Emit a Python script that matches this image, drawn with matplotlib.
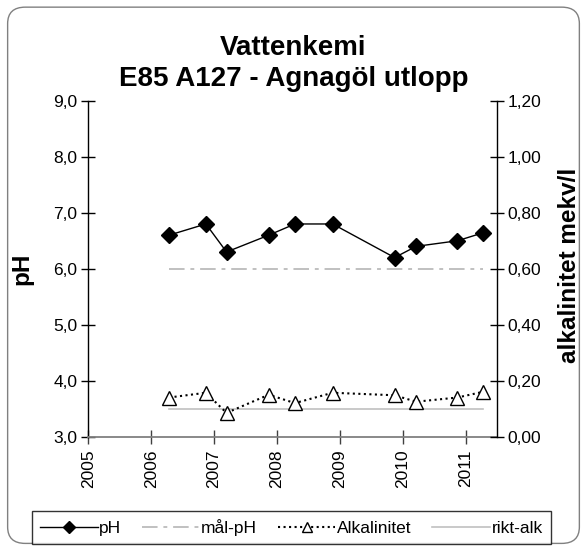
#!/usr/bin/env python3
"""Water chemistry chart: pH and alkalinity at E85 A127 - Agnagöl utlopp."""

from datetime import datetime

import matplotlib

matplotlib.use("Agg")
import matplotlib.dates as mdates
import matplotlib.pyplot as plt
from matplotlib.patches import FancyBboxPatch
from matplotlib.ticker import FuncFormatter

plt.rcParams["font.family"] = ["Liberation Sans", "DejaVu Sans"]

sample_dates = [
    "2006-04-15", "2006-11-15", "2007-03-15", "2007-11-15", "2008-04-15",
    "2008-11-20", "2009-11-15", "2010-03-20", "2010-11-15", "2011-04-10",
]
ph_values = [6.6, 6.8, 6.3, 6.6, 6.8, 6.8, 6.2, 6.4, 6.5, 6.64]
alkalinity = [0.14, 0.157, 0.085, 0.15, 0.12, 0.157, 0.148, 0.125, 0.14, 0.16]
target_ph = 6.0
guide_alk = 0.10

dates = [datetime.strptime(d, "%Y-%m-%d") for d in sample_dates]
target_span = [dates[0], dates[-1]]

fig = plt.figure(figsize=(5.87, 5.5), dpi=100)

# rounded chart-area frame, kept behind both axes
frame = FancyBboxPatch(
    (0.013, 0.012), 0.974, 0.975,
    boxstyle="round,pad=0,rounding_size=0.03",
    transform=fig.transFigure, facecolor="white", edgecolor="#808080",
    linewidth=1.0, zorder=-5,
)
fig.patches.append(frame)

ax = fig.add_axes([0.1504, 0.206, 0.6958, 0.6107])
ax2 = ax.twinx()
ax.patch.set_visible(False)
ax2.patch.set_visible(False)

ax.plot(dates, ph_values, color="black", linewidth=1.0, marker="D",
        markersize=8.5, label="pH", zorder=4)
ax.plot(target_span, [target_ph, target_ph], color="#c0c0c0",
        linestyle=(0, (8, 3, 2, 3)), linewidth=1.4, label="mål-pH", zorder=3)
ax2.plot(dates, alkalinity, color="black", linestyle=":", linewidth=1.5,
         marker="^", markersize=10.5, markerfacecolor="white",
         markeredgecolor="black", markeredgewidth=1.0, label="Alkalinitet",
         zorder=4)
ax2.plot(target_span, [guide_alk, guide_alk], color="#c0c0c0", linewidth=1.2,
         label="rikt-alk", zorder=3)

ax.set_ylim(3.0, 9.0)
ax2.set_ylim(0.0, 1.2)
ax.set_yticks([3, 4, 5, 6, 7, 8, 9])
ax2.set_yticks([0.0, 0.2, 0.4, 0.6, 0.8, 1.0, 1.2])
ax.yaxis.set_major_formatter(FuncFormatter(lambda v, _: f"{v:.1f}".replace(".", ",")))
ax2.yaxis.set_major_formatter(FuncFormatter(lambda v, _: f"{v:.2f}".replace(".", ",")))

ax.set_xlim(datetime(2005, 1, 1), datetime(2011, 7, 1))
ax.xaxis.set_major_locator(mdates.YearLocator())
ax.xaxis.set_major_formatter(mdates.DateFormatter("%Y"))
plt.setp(ax.get_xticklabels(), rotation=90)

for a in (ax, ax2):
    a.spines["top"].set_visible(False)
    a.spines["bottom"].set_visible(False)
    a.tick_params(axis="y", direction="inout", length=10, width=1.0,
                  labelsize=12.5, pad=3)
ax.spines["right"].set_visible(False)
ax2.spines["left"].set_visible(False)
ax.spines["left"].set_linewidth(1.0)
ax2.spines["right"].set_linewidth(1.0)
ax.spines["bottom"].set_visible(True)
ax.spines["bottom"].set_color("#808080")
ax.spines["bottom"].set_linewidth(1.3)
ax.tick_params(axis="x", direction="inout", length=10, width=1.0,
               color="#404040", labelsize=12.5, pad=4)

ax.set_ylabel("pH", fontsize=17.5, fontweight="bold")
ax2.set_ylabel("alkalinitet mekv/l", fontsize=17.5, fontweight="bold")
ax.yaxis.set_label_coords(-0.135, 0.5)
ax2.yaxis.set_label_coords(1.15, 0.51)

fig.text(0.5, 0.9, "Vattenkemi", ha="center", va="baseline",
         fontsize=20, fontweight="bold")
fig.text(0.5, 0.8436, "E85 A127 - Agnagöl utlopp", ha="center",
         va="baseline", fontsize=20, fontweight="bold")

handles = ax.get_lines() + ax2.get_lines()
leg = fig.legend(
    handles, [h.get_label() for h in handles], loc="center",
    bbox_to_anchor=(0.4966, 0.041), ncol=4, fontsize=12.5, frameon=True,
    fancybox=False, edgecolor="black", handlelength=3.3, columnspacing=1.2,
    handletextpad=0.1, borderpad=0.45, borderaxespad=0, markerscale=0.7,
)
leg.get_frame().set_linewidth(1.0)

fig.savefig("out.png", dpi=100)
plt.close(fig)
